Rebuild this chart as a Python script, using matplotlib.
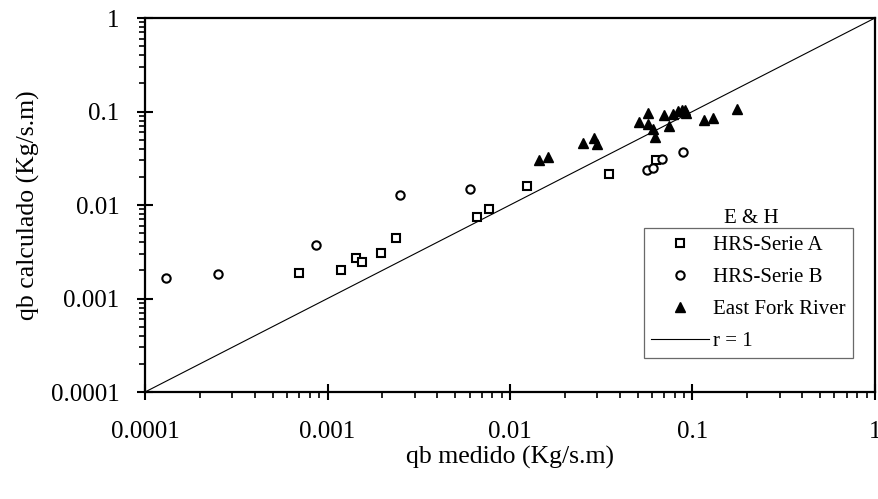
import numpy as np
import matplotlib
matplotlib.use("Agg")
from matplotlib import pyplot as plt
from matplotlib.ticker import LogLocator, NullFormatter, FixedLocator, FixedFormatter

plt.rcParams['font.family'] = ['Liberation Serif', 'DejaVu Serif']

# HRS-Serie A (open squares)
serieA_med = [7.0e-4, 1.18e-3, 1.43e-3, 1.55e-3, 1.96e-3, 2.36e-3, 6.6e-3, 7.7e-3, 1.24e-2, 3.47e-2, 6.3e-2]
serieA_calc = [1.86e-3, 2.02e-3, 2.69e-3, 2.48e-3, 3.04e-3, 4.47e-3, 7.5e-3, 9.06e-3, 1.6e-2, 2.16e-2, 3.0e-2]

# HRS-Serie B (open circles)
serieB_med = [1.31e-4, 2.5e-4, 8.6e-4, 2.5e-3, 6.04e-3, 5.61e-2, 6.1e-2, 6.78e-2, 8.84e-2]
serieB_calc = [1.67e-3, 1.82e-3, 3.73e-3, 1.28e-2, 1.47e-2, 2.37e-2, 2.47e-2, 3.08e-2, 3.69e-2]

# East Fork River (filled triangles)
efr_med = [1.45e-2, 1.62e-2, 2.5e-2, 2.9e-2, 3.0e-2, 5.11e-2, 5.68e-2, 5.73e-2, 6.1e-2, 6.23e-2,
           7.01e-2, 7.46e-2, 7.79e-2, 8.36e-2, 8.73e-2, 9.1e-2, 9.2e-2, 0.116, 0.130, 0.176]
efr_calc = [3.0e-2, 3.3e-2, 4.6e-2, 5.2e-2, 4.5e-2, 7.78e-2, 9.7e-2, 7.35e-2, 6.45e-2, 5.38e-2,
            9.18e-2, 7.0e-2, 9.4e-2, 0.102, 0.104, 0.105, 9.6e-2, 8.1e-2, 8.46e-2, 0.106]

line_r1 = [1e-4, 1]
tick_vals = [1e-4, 1e-3, 1e-2, 1e-1, 1]
tick_labels = ['0.0001', '0.001', '0.01', '0.1', '1']

fig = plt.figure(figsize=(8.79, 4.99), dpi=100)
ax = fig.add_axes([0.165, 0.2144, 0.8304, 0.7495])

ax.plot(serieA_med, serieA_calc, linestyle='none', marker='s', markersize=5.5,
        markerfacecolor='white', markeredgecolor='black', markeredgewidth=1.5, label='HRS-Serie A', zorder=3)
ax.plot(serieB_med, serieB_calc, linestyle='none', marker='o', markersize=6,
        markerfacecolor='white', markeredgecolor='black', markeredgewidth=1.5, label='HRS-Serie B', zorder=4)
ax.plot(efr_med, efr_calc, linestyle='none', marker='^', markersize=7.5,
        markerfacecolor='black', markeredgecolor='black', label='East Fork River', zorder=3)
ax.plot(line_r1, line_r1, color='black', linewidth=0.8, label='r = 1', zorder=2)

ax.set_xscale('log')
ax.set_yscale('log')
ax.set_xlim(1e-4, 1)
ax.set_ylim(1e-4, 1)

for axis in (ax.xaxis, ax.yaxis):
    axis.set_major_locator(FixedLocator(tick_vals))
    axis.set_major_formatter(FixedFormatter(tick_labels))
    axis.set_minor_locator(LogLocator(base=10, subs=np.arange(2, 10)))
    axis.set_minor_formatter(NullFormatter())

ax.tick_params(which='major', direction='inout', length=11, width=1.5, labelsize=18, pad=13)
ax.tick_params(axis='x', which='major', pad=15.5)
ax.tick_params(which='minor', direction='out', length=4.5, width=1.2)
ax.tick_params(top=False, right=False)

for s in ax.spines.values():
    s.set_linewidth(1.6)

ax.set_xlabel('qb medido (Kg/s.m)', fontsize=18.5)
ax.set_ylabel('qb calculado (Kg/s.m)', fontsize=18.5)
ax.xaxis.set_label_coords(0.5, -0.174)
ax.xaxis.label.set_va('center')
ax.yaxis.set_label_coords(-0.160, 0.5)
ax.yaxis.label.set_va('center')

leg = ax.legend(loc='upper left', bbox_to_anchor=(0.6836, 0.4385), fontsize=15,
                frameon=True, fancybox=False, handlelength=2.75, labelspacing=0.6,
                borderpad=0.35, handletextpad=0.2, borderaxespad=0)
leg.get_frame().set_edgecolor('#444444')
leg.get_frame().set_linewidth(0.9)
ax.text(0.830, 0.465, 'E & H', transform=ax.transAxes, ha='center', va='center',
        fontsize=15, zorder=6)

fig.savefig('out.png', dpi=100)
